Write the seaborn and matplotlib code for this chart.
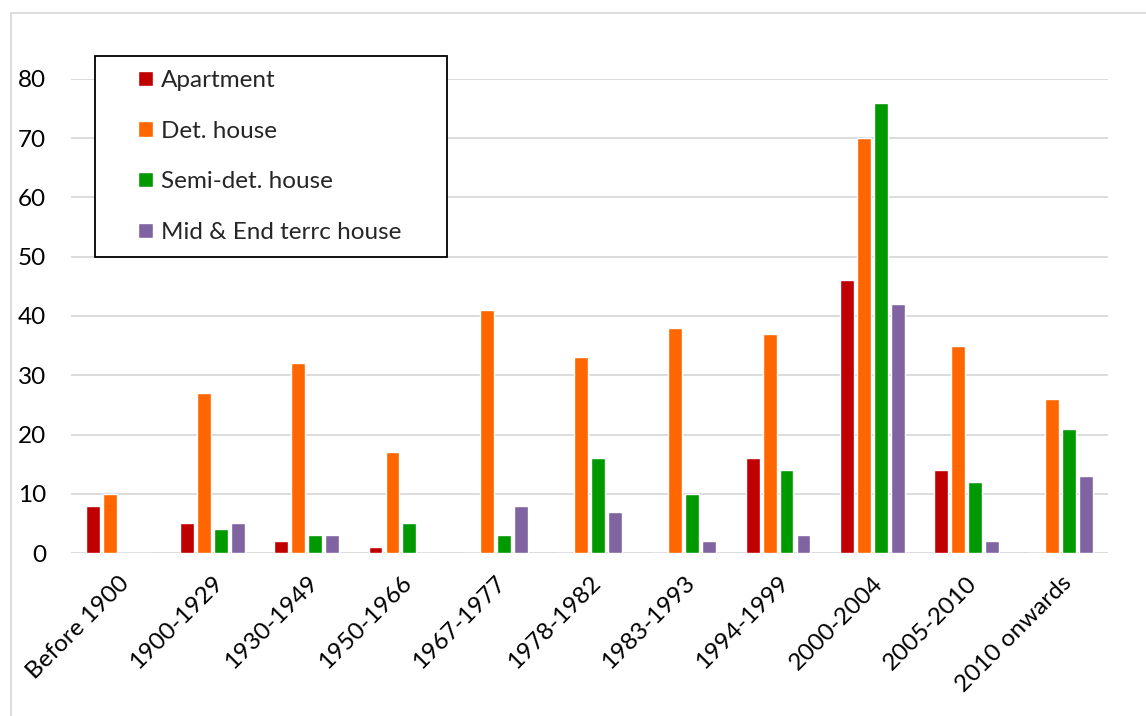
import matplotlib
matplotlib.use("Agg")
import matplotlib.pyplot as plt
from matplotlib.patches import Rectangle
import pandas as pd
import seaborn as sns

periods = ["Before 1900", "1900-1929", "1930-1949", "1950-1966", "1967-1977",
           "1978-1982", "1983-1993", "1994-1999", "2000-2004", "2005-2010",
           "2010 onwards"]
apartment = [8, 5, 2, 1, 0, 0, 0, 16, 46, 14, 0]
det_house = [10, 27, 32, 17, 41, 33, 38, 37, 70, 35, 26]
semi_det_house = [0, 4, 3, 5, 3, 16, 10, 14, 76, 12, 21]
terrace_house = [0, 5, 3, 0, 8, 7, 2, 3, 42, 2, 13]
series_names = ["Apartment", "Det. house", "Semi-det. house", "Mid & End terrc house"]
colors = ["#C00000", "#FF6600", "#009900", "#8064A2"]
y_ticks = [0, 10, 20, 30, 40, 50, 60, 70, 80]

rows = []
for name, vals in zip(series_names, [apartment, det_house, semi_det_house, terrace_house]):
    for p, v in zip(periods, vals):
        rows.append({"period": p, "type": name, "count": v})
df = pd.DataFrame(rows)

sns.set_theme(style="white")
plt.rcParams["font.family"] = ["Lato", "DejaVu Sans"]

W, H = 1146, 716
fig = plt.figure(figsize=(W / 100, H / 100), dpi=100)
ax = fig.add_axes([71 / W, 1 - 553 / H, (1108 - 71) / W, (553 - 79) / H])

sns.barplot(data=df, x="period", y="count", hue="type", order=periods,
            hue_order=series_names, palette=colors, width=0.72, gap=0.18,
            saturation=1, ax=ax, legend=True, zorder=3)

ax.set_ylim(0, 80)
ax.set_xlim(-0.5, len(periods) - 0.5)
ax.set_yticks(y_ticks)
ax.yaxis.grid(True, color="#D9D9D9", linewidth=1.3, zorder=0)
ax.set_axisbelow(True)
for s in ax.spines.values():
    s.set_visible(False)
ax.set_xlabel("")
ax.set_ylabel("")
ax.tick_params(axis="y", length=0, pad=18, labelsize=17.5, labelcolor="black")
ax.tick_params(axis="x", length=0, pad=14, labelsize=17.5, labelcolor="black")
for lbl in ax.get_xticklabels():
    lbl.set_rotation(45)
    lbl.set_ha("right")
    lbl.set_rotation_mode("anchor")

# legend entries without frame; the box is drawn separately
leg = ax.legend(loc="upper left", bbox_to_anchor=(138 / W, 1 - 70 / H),
                bbox_transform=fig.transFigure, frameon=False,
                fontsize=17.5, handlelength=0.6, handleheight=0.6,
                handletextpad=0.35, labelspacing=1.22, borderpad=0,
                borderaxespad=0)
leg.set_title(None)
leg.set_zorder(6)

box = Rectangle((95 / W, 1 - 257 / H), (447 - 95) / W, (257 - 56) / H,
                transform=fig.transFigure, facecolor="white",
                edgecolor="black", linewidth=1.3, zorder=5, clip_on=False)
ax.add_patch(box)

# outer chart border
fig.patches.append(Rectangle((11 / W, -0.05), 1.1, 1 - 13 / H + 0.05,
                             transform=fig.transFigure, fill=False,
                             edgecolor="#D9D9D9", linewidth=1.3, zorder=0))

fig.savefig("out.png", dpi=100)
